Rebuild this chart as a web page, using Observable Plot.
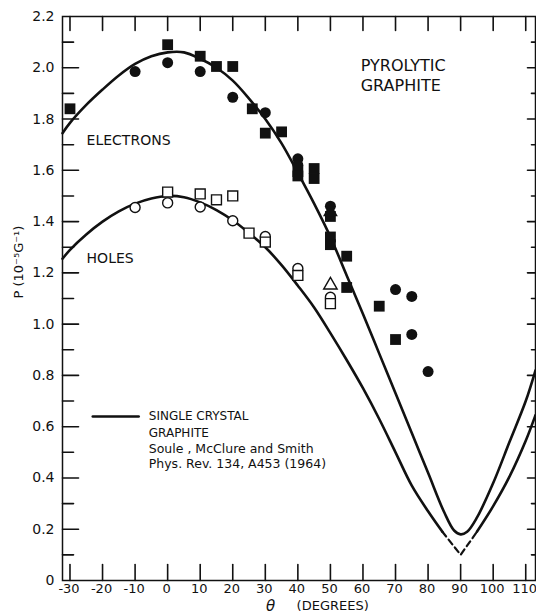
<!DOCTYPE html>
<html><head><meta charset="utf-8">
<script src="https://cdn.jsdelivr.net/npm/d3@7"></script>
<script src="https://cdn.jsdelivr.net/npm/@observablehq/plot@0.6"></script>
<style>body{margin:0;background:#fff}</style>
</head><body><div id="chart"></div>
<script>
// Theory curves (single crystal graphite), [theta, P]
const electronCurve = [[-32.3,1.745],[-30,1.785],[-25,1.855],[-20,1.915],[-15,1.97],[-10,2.015],[-5,2.045],[0,2.06],[5,2.06],[10,2.035],[15,2.0],[20,1.95],[25,1.88],[30,1.80],[35,1.705],[40,1.59],[45,1.47],[50,1.34],[55,1.19],[60,1.04],[65,0.885],[70,0.73],[75,0.575],[80,0.42],[85,0.265],[88,0.195],[90,0.18],[92,0.19],[95,0.245],[100,0.38],[105,0.54],[110,0.70],[113,0.82]];
const holeCurveLeft = [[-32.3,1.255],[-30,1.29],[-25,1.35],[-20,1.40],[-15,1.44],[-10,1.47],[-5,1.49],[0,1.50],[5,1.495],[10,1.475],[15,1.445],[20,1.405],[25,1.355],[30,1.30],[35,1.23],[40,1.15],[45,1.065],[50,0.965],[55,0.86],[60,0.75],[65,0.63],[70,0.50],[75,0.37],[80,0.27],[84.4,0.19]];
const holeCurveDashed = [[84.4,0.19],[90,0.10],[95,0.19]];
const holeCurveRight = [[95,0.19],[100,0.29],[105,0.405],[110,0.545],[113,0.645]];

// Pyrolytic graphite measurements, [theta, P]
const electronSquares = [[-30,1.84],[0,2.09],[10,2.045],[15,2.005],[20,2.005],[26,1.84],[30,1.745],[35,1.75],[40,1.595],[40,1.578],[45,1.607],[45,1.568],[50,1.42],[50,1.34],[50,1.31],[55,1.265],[55,1.143],[65,1.07],[70,0.94]];
const electronCircles = [[-10,1.985],[0,2.02],[10,1.985],[20,1.885],[30,1.825],[40,1.645],[40,1.62],[50,1.46],[70,1.135],[75,1.108],[75,0.96],[80,0.815]];
const electronTriangles = [[50,1.438]];
const holeSquares = [[0,1.515],[10,1.508],[15,1.485],[20,1.50],[25,1.355],[30,1.32],[40,1.19],[50,1.08]];
const holeCircles = [[-10,1.455],[0,1.473],[10,1.457],[20,1.403],[30,1.342],[40,1.217],[50,1.105]];
const holeTriangles = [[50,1.152]];

// Ticks
const xTicks = [-30,-20,-10,0,10,20,30,40,50,60,70,80,90,100,110];
const yMajor = [0,0.2,0.4,0.6,0.8,1.0,1.2,1.4,1.6,1.8,2.0,2.2];
const yMinor = [0.1,0.3,0.5,0.7,0.9,1.1,1.3,1.5,1.7,1.9,2.1];
const yLabels = ["0","0.2","0.4","0.6","0.8","1.0","1.2","1.4","1.6","1.8","2.0","2.2"];

// Annotations [theta, P, text]
const bigLabels = [[59.3,2.009,"PYROLYTIC"],[59.3,1.93,"GRAPHITE"]];
const seriesLabels = [[-24.9,1.716,"ELECTRONS"],[-24.9,1.256,"HOLES"]];
const legendLine = [[-23.0,0.64],[-8.9,0.64]];
const legendCaps = [[-5.8,0.64,"SINGLE CRYSTAL"],[-5.8,0.573,"GRAPHITE"]];
const legendRef = [[-5.8,0.511,"Soule , McClure and Smith"],[-5.8,0.456,"Phys. Rev. 134, A453 (1964)"]];

const xDom = [-32.3, 113], yDom = [0, 2.2];
const W = 536, H = 616, mL = 62, mR = 1, mT = 16, mB = 36;
const kx = (W - mL - mR) / (xDom[1] - xDom[0]);  // px per degree
const ky = (H - mT - mB) / (yDom[1] - yDom[0]);  // px per unit
const fx = d => d[0], fy = d => d[1];
const ink = "#111";
const innerY = yMajor.slice(1, -1);

// one two-point line per tick (same kind of mark as the legend line), lengths in px -> data units
const tickLines = [
  ...xTicks.map(t => [[t, yDom[0]], [t, yDom[0] + 16 / ky]]),
  ...xTicks.map(t => [[t, yDom[1]], [t, yDom[1] - 14 / ky]]),
  ...innerY.map(v => [[xDom[0], v], [xDom[0] + 16 / kx, v]]),
  ...yMinor.map(v => [[xDom[0], v], [xDom[0] + 11 / kx, v]]),
  ...innerY.map(v => [[xDom[1], v], [xDom[1] - 8 / kx, v]]),
  ...yMinor.map(v => [[xDom[1], v], [xDom[1] - 4 / kx, v]])
];

const chart = Plot.plot({
  width: W, height: H, marginLeft: mL, marginRight: mR, marginTop: mT, marginBottom: mB,
  x: {domain: xDom, label: null}, y: {domain: yDom, label: null},
  style: {fontFamily: "DejaVu Sans", fontSize: "14px", color: ink, background: "#fff"},
  marks: [
    Plot.frame({stroke: ink, strokeWidth: 1.5}),
    // tick labels
    Plot.axisX({anchor: "bottom", ticks: xTicks, tickSize: 0, tickPadding: 3, tickFormat: d => (d < 0 ? "-" + Math.abs(d) : String(d)), fontSize: 13, dx: -1}),
    Plot.axisY({anchor: "left", ticks: yMajor, tickSize: 0, tickPadding: 8, tickFormat: (d, i) => yLabels[i], fontSize: 14}),
    Plot.text(["P (10⁻⁵G⁻¹)"], {frameAnchor: "left", dx: -44, rotate: -90, fontSize: 13, letterSpacing: 0.5, fill: ink}),
    Plot.text(["θ"], {x: 31.6, frameAnchor: "bottom", dy: 30, fontSize: 15, fontStyle: "italic", fill: ink}),
    Plot.text(["(DEGREES)"], {x: 50.7, frameAnchor: "bottom", dy: 29, fontSize: 13, letterSpacing: 1, fill: ink}),
    // theory curves
    Plot.line(electronCurve, {x: fx, y: fy, curve: "catmull-rom", stroke: ink, strokeWidth: 2.6}),
    Plot.line(holeCurveLeft, {x: fx, y: fy, curve: "catmull-rom", stroke: ink, strokeWidth: 2.6}),
    Plot.line(holeCurveDashed, {x: fx, y: fy, stroke: ink, strokeWidth: 2.2, strokeDasharray: "6,4"}),
    Plot.line(holeCurveRight, {x: fx, y: fy, curve: "catmull-rom", stroke: ink, strokeWidth: 2.6}),
    // open symbols (holes)
    Plot.dot(holeCircles, {x: fx, y: fy, symbol: "circle", r: 5, fill: "white", stroke: ink, strokeWidth: 1.4}),
    Plot.dot(holeSquares, {x: fx, y: fy, symbol: "square", r: 5.6, fill: "white", stroke: ink, strokeWidth: 1.4}),
    Plot.dot(holeTriangles, {x: fx, y: fy, symbol: "triangle", r: 5, fill: "white", stroke: ink, strokeWidth: 1.4}),
    // filled symbols (electrons)
    Plot.dot(electronSquares, {x: fx, y: fy, symbol: "square", r: 6.1, fill: ink, stroke: "none"}),
    Plot.dot(electronCircles, {x: fx, y: fy, symbol: "circle", r: 5.5, fill: ink, stroke: "none"}),
    Plot.dot(electronTriangles, {x: fx, y: fy, symbol: "triangle", r: 5.5, fill: ink, stroke: "none"}),
    // labels
    Plot.text(bigLabels, {x: fx, y: fy, text: d => d[2], textAnchor: "start", fontSize: 16, letterSpacing: 1, fill: ink}),
    Plot.text(seriesLabels, {x: fx, y: fy, text: d => d[2], textAnchor: "start", fontSize: 14, letterSpacing: 0.5, fill: ink}),
    Plot.line(legendLine, {x: fx, y: fy, stroke: ink, strokeWidth: 2.6}),
    Plot.text(legendCaps, {x: fx, y: fy, text: d => d[2], textAnchor: "start", fontSize: 12, letterSpacing: 2, fill: ink}),
    Plot.text(legendRef, {x: fx, y: fy, text: d => d[2], textAnchor: "start", fontSize: 12.5, fill: ink}),
    // inward ticks on all four sides
    ...tickLines.map(seg => Plot.line(seg, {x: fx, y: fy, stroke: ink, strokeWidth: 1.6}))
  ]
});
document.getElementById("chart").appendChild(chart);
</script>
</body></html>
